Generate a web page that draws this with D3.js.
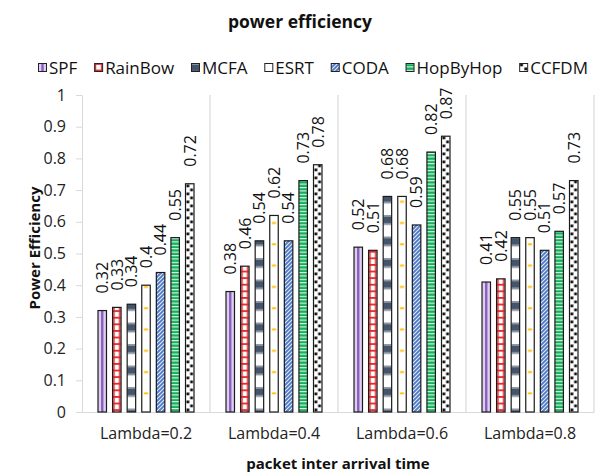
<!DOCTYPE html>
<html>
<head>
<meta charset="utf-8">
<script src="https://cdn.jsdelivr.net/npm/d3@7"></script>
<style>
  html, body { margin: 0; padding: 0; background: #fff; }
  svg { display: block; }
  text { font-family: "Open Sans", "Noto Sans", sans-serif; }
</style>
</head>
<body>
<svg id="chart" width="602" height="476"></svg>
<script>
// ---- data ----
const categories = ["Lambda=0.2", "Lambda=0.4", "Lambda=0.6", "Lambda=0.8"];
const seriesNames = ["SPF", "RainBow", "MCFA", "ESRT", "CODA", "HopByHop", "CCFDM"];
const SPF      = [0.32, 0.38, 0.52, 0.41];
const RainBow  = [0.33, 0.46, 0.51, 0.42];
const MCFA     = [0.34, 0.54, 0.68, 0.55];
const ESRT     = [0.40, 0.62, 0.68, 0.55];
const CODA     = [0.44, 0.54, 0.59, 0.51];
const HopByHop = [0.55, 0.73, 0.82, 0.57];
const CCFDM    = [0.72, 0.78, 0.87, 0.73];
const yTicks = [0, 0.1, 0.2, 0.3, 0.4, 0.5, 0.6, 0.7, 0.8, 0.9, 1];
const titleText = "power efficiency";
const yTitle = "Power Efficiency";
const xTitle = "packet inter arrival time";

const seriesValues = { SPF, RainBow, MCFA, ESRT, CODA, HopByHop, CCFDM };

// ---- layout ----
const W = 602, H = 476;
const plot = { left: 82, right: 594, top: 95, bottom: 412 };
const svg = d3.select("#chart");
const defs = svg.append("defs");

const x0 = d3.scaleBand().domain(categories).range([plot.left, plot.right]).padding(0);
const bw = x0.bandwidth();
const x1 = d3.scaleBand().domain(seriesNames).range([16, bw - 16]).paddingInner(0.418).paddingOuter(0);
const barW = x1.bandwidth();
const y = d3.scaleLinear().domain([0, 1]).range([plot.bottom, plot.top]);

// ---- patterns ----
const painters = {
  SPF: { h: 4, aligned: true, draw(p, w) {
    p.append("rect").attr("width", w).attr("height", 4).attr("fill", "#ddd0ee");
    p.append("rect").attr("x", w / 2 - 1.2).attr("width", 2.4).attr("height", 4).attr("fill", "#8c5cc4");
  }},
  RainBow: { h: 6.6, aligned: true, draw(p, w) {
    p.append("rect").attr("width", w).attr("height", 6.6).attr("fill", "#ffffff");
    p.append("rect").attr("width", w).attr("height", 1.8).attr("fill", "#e3262a");
    p.append("rect").attr("x", 0.5).attr("width", 1.6).attr("height", 6.6).attr("fill", "#e3262a");
    p.append("rect").attr("x", w - 2.1).attr("width", 1.6).attr("height", 6.6).attr("fill", "#e3262a");
  }},
  MCFA: { h: 21.5, aligned: true, draw(p, w) {
    p.append("rect").attr("width", w).attr("height", 21.5).attr("fill", "#ffffff");
    p.append("rect").attr("y", 0).attr("width", w).attr("height", 1.5).attr("fill", "#8e98a8");
    p.append("rect").attr("y", 1.5).attr("width", w).attr("height", 7).attr("fill", "#44546a");
    p.append("rect").attr("y", 8.5).attr("width", w).attr("height", 1.5).attr("fill", "#8e98a8");
  }},
  ESRT: { h: 21.3, aligned: true, draw(p, w) {
    p.append("rect").attr("width", w).attr("height", 21.3).attr("fill", "#ffffff");
    p.append("rect").attr("x", w / 2 - 2).attr("y", 9).attr("width", 4).attr("height", 2).attr("fill", "#ffc000");
  }},
  CODA: { h: 4, aligned: false, w: 4, draw(p) {
    p.append("rect").attr("width", 4).attr("height", 4).attr("fill", "#e3eaf7");
    p.append("path").attr("d", "M-1,5 L5,-1 M-1,1 L1,-1 M3,5 L5,3")
      .attr("stroke", "#4a78c8").attr("stroke-width", 1.7);
  }},
  HopByHop: { h: 3.4, aligned: false, w: 4, draw(p) {
    p.append("rect").attr("width", 4).attr("height", 3.4).attr("fill", "#12b05a");
    p.append("rect").attr("y", 0).attr("width", 4).attr("height", 1.1).attr("fill", "#e8f6ee");
  }},
  CCFDM: { h: 8, aligned: true, draw(p, w) {
    p.append("rect").attr("width", w).attr("height", 8).attr("fill", "#ffffff");
    p.append("rect").attr("x", 1).attr("y", 0.5).attr("width", 2.8).attr("height", 2.8).attr("fill", "#111");
    p.append("rect").attr("x", w - 3.8).attr("y", 4.5).attr("width", 2.8).attr("height", 2.8).attr("fill", "#111");
  }}
};

// pattern origin is given in the user space of the element that uses it
function makePattern(id, name, ox, oy, w, tileW) {
  const spec = painters[name];
  const pat = defs.append("pattern").attr("id", id)
    .attr("patternUnits", "userSpaceOnUse")
    .attr("x", spec.aligned ? ox : 0).attr("y", oy)
    .attr("width", spec.aligned ? tileW : spec.w)
    .attr("height", spec.h);
  spec.draw(pat, w);
  return `url(#${id})`;
}

const barFill = {};
seriesNames.forEach((s, i) => {
  barFill[s] = makePattern("pat-" + i, s, x1(s), 0, barW, bw);
});

// ---- title ----
svg.append("text").attr("x", 300).attr("y", 28).attr("text-anchor", "middle")
  .attr("font-size", 17.5).attr("font-weight", "bold").attr("fill", "#111").text(titleText);

// ---- legend ----
const legendFont = 17;
const lg = svg.append("g");
const items = seriesNames.map(s => {
  const t = lg.append("text").attr("font-size", legendFont).attr("fill", "#111").text(s);
  return { s, t, w: t.node().getComputedTextLength() };
});
const legendStart = 38, legendEnd = 588, iconSize = 9, iconGap = 11;
const sumW = d3.sum(items, d => iconGap + d.w);
const gap = (legendEnd - legendStart - sumW) / (items.length - 1);
let lx = legendStart;
items.forEach((d, i) => {
  const fill = makePattern("lpat-" + i, d.s, lx, 63, iconSize, 40);
  lg.append("rect").attr("x", lx + 0.5).attr("y", 63.5).attr("width", iconSize - 1).attr("height", iconSize - 1)
    .attr("fill", fill).attr("stroke", "#222").attr("stroke-width", 1);
  d.t.attr("x", lx + iconGap).attr("y", 73.5);
  lx += iconGap + d.w + gap;
});

// ---- axes ----
const yAxis = d3.axisLeft(y).tickValues(yTicks).tickSize(6).tickSizeOuter(0).tickPadding(10)
  .tickFormat(d => String(+d.toFixed(1)));
const yg = svg.append("g").attr("transform", `translate(${plot.left},0)`).call(yAxis);
yg.select(".domain").attr("stroke", "#d9d9d9");
yg.selectAll(".tick line").attr("stroke", "#d9d9d9");
yg.selectAll(".tick text").attr("font-size", 16).attr("fill", "#222")
  .attr("font-family", '"Open Sans", sans-serif');

const xAxis = d3.axisBottom(x0).tickSize(0).tickSizeOuter(0).tickPadding(16);
const xg = svg.append("g").attr("transform", `translate(0,${plot.bottom})`).call(xAxis);
xg.select(".domain").attr("stroke", "#d9d9d9");
xg.selectAll(".tick text").attr("font-size", 16).attr("fill", "#222")
  .attr("font-family", '"Open Sans", sans-serif');

// category separators
svg.append("g").selectAll("line").data(categories).join("line")
  .attr("x1", d => x0(d) + bw).attr("x2", d => x0(d) + bw)
  .attr("y1", plot.top).attr("y2", plot.bottom)
  .attr("stroke", "#d9d9d9").attr("stroke-width", 1.2);

// axis titles
svg.append("text").attr("transform", `translate(40,248) rotate(-90)`).attr("text-anchor", "middle")
  .attr("font-size", 15).attr("font-weight", "bold").attr("fill", "#111").text(yTitle);
svg.append("text").attr("x", 338).attr("y", 469).attr("text-anchor", "middle")
  .attr("font-size", 15).attr("font-weight", "bold").attr("fill", "#111").text(xTitle);

// ---- bars ----
const groups = svg.append("g").selectAll("g").data(categories).join("g")
  .attr("transform", d => `translate(${x0(d)},0)`);

const cells = groups.selectAll("g.cell")
  .data((c, ci) => seriesNames.map(s => ({ s, v: seriesValues[s][ci] })))
  .join("g").attr("class", "cell");

cells.append("rect")
  .attr("x", d => x1(d.s)).attr("y", d => y(d.v))
  .attr("width", barW).attr("height", d => y(0) - y(d.v))
  .attr("fill", d => barFill[d.s])
  .attr("stroke", "#1a1a1a").attr("stroke-width", 1.2);

cells.append("text")
  .attr("transform", d => `translate(${x1(d.s) + barW / 2},${y(d.v) - 17}) rotate(-90)`)
  .attr("dy", "0.36em").attr("text-anchor", "start")
  .attr("font-size", 16).attr("fill", "#111")
  .text(d => String(d.v));
</script>
</body>
</html>
